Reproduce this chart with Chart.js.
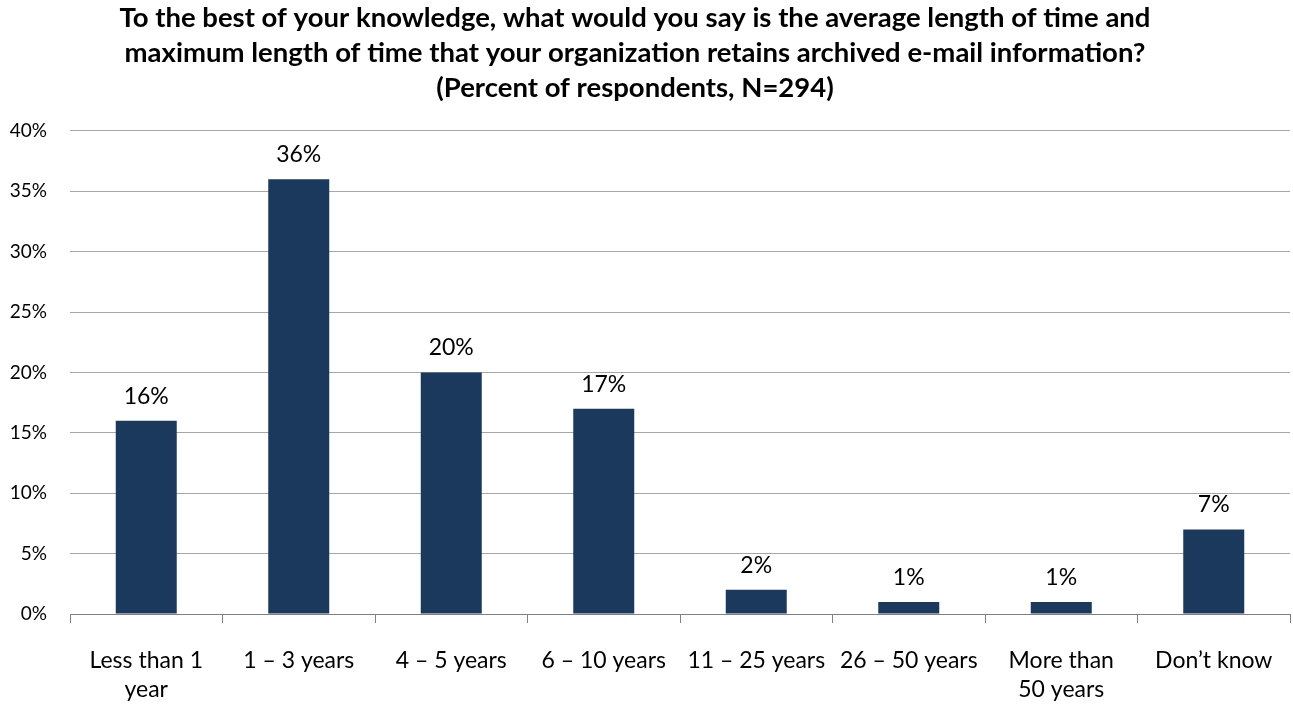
<!DOCTYPE html>
<html>
<head>
<meta charset="utf-8">
<script src="https://cdn.jsdelivr.net/npm/chart.js@4"></script>
<style>
  html, body { margin: 0; padding: 0; background: #ffffff; }
  #wrap { width: 1293px; height: 706px; position: relative; }
</style>
</head>
<body>
<div id="wrap"><canvas id="c" width="1293" height="706"></canvas></div>
<script>
const titleLines = [
  "To the best of your knowledge, what would you say is the average length of time and",
  "maximum length of time that your organization retains archived e-mail information?",
  "(Percent of respondents, N=294)"
];
const categories = [
  ["Less than 1", "year"],
  "1 – 3 years",
  "4 – 5 years",
  "6 – 10 years",
  "11 – 25 years",
  "26 – 50 years",
  ["More than", "50 years"],
  "Don’t know"
];
const percentValues = [16, 36, 20, 17, 2, 1, 1, 7];
const yTickValues = [0, 5, 10, 15, 20, 25, 30, 35, 40];

const FONT = "Lato, 'Open Sans', sans-serif";

const valueLabels = {
  id: 'valueLabels',
  afterDatasetsDraw(chart) {
    const ctx = chart.ctx;
    const meta = chart.getDatasetMeta(0);
    ctx.save();
    ctx.font = "23px " + FONT;
    ctx.fillStyle = "#000000";
    ctx.textAlign = "center";
    ctx.textBaseline = "bottom";
    meta.data.forEach((bar, i) => {
      ctx.fillText(percentValues[i] + "%", bar.x, bar.y - 13);
    });
    ctx.restore();
  }
};

const titleShift = {
  id: 'titleShift',
  afterLayout(chart) {
    const t = chart.titleBlock;
    if (t) { t.left -= 14; t.right -= 14; }
  }
};

new Chart(document.getElementById('c'), {
  type: 'bar',
  data: {
    labels: categories,
    datasets: [{
      data: percentValues,
      backgroundColor: '#1b385d',
      borderColor: '#1b385d',
      borderWidth: 0,
      barPercentage: 0.8,
      categoryPercentage: 0.5
    }]
  },
  options: {
    responsive: false,
    animation: false,
    layout: { padding: { left: 8, right: 3, top: 1, bottom: 0 } },
    plugins: {
      legend: { display: false },
      tooltip: { enabled: false },
      title: {
        display: true,
        text: titleLines,
        color: '#000000',
        font: { family: FONT, size: 27.5, weight: 'bold', lineHeight: 1.26 },
        padding: { top: 0, bottom: 26 }
      }
    },
    scales: {
      x: {
        afterFit(axis) {
          axis.height = 92;
          axis.paddingLeft = 0;
          axis.paddingRight = 0;
        },
        grid: {
          display: true,
          offset: true,
          drawOnChartArea: false,
          drawTicks: true,
          tickLength: 9,
          color: '#808080'
        },
        border: { display: true, color: '#808080', width: 1 },
        ticks: {
          autoSkip: false,
          maxRotation: 0,
          minRotation: 0,
          color: '#000000',
          padding: 23,
          font: { family: FONT, size: 23, lineHeight: 1.26 }
        }
      },
      y: {
        min: 0,
        max: 40,
        afterBuildTicks(axis) {
          axis.ticks = yTickValues.map(v => ({ value: v }));
        },
        afterFit(axis) {
          axis.width = 62;
        },
        grid: {
          color: '#a6a6a6',
          drawTicks: false,
          lineWidth: 1
        },
        border: { display: false },
        ticks: {
          color: '#000000',
          padding: 23,
          font: { family: FONT, size: 19 },
          callback: v => v + '%'
        }
      }
    }
  },
  plugins: [valueLabels, titleShift]
});
</script>
</body>
</html>
